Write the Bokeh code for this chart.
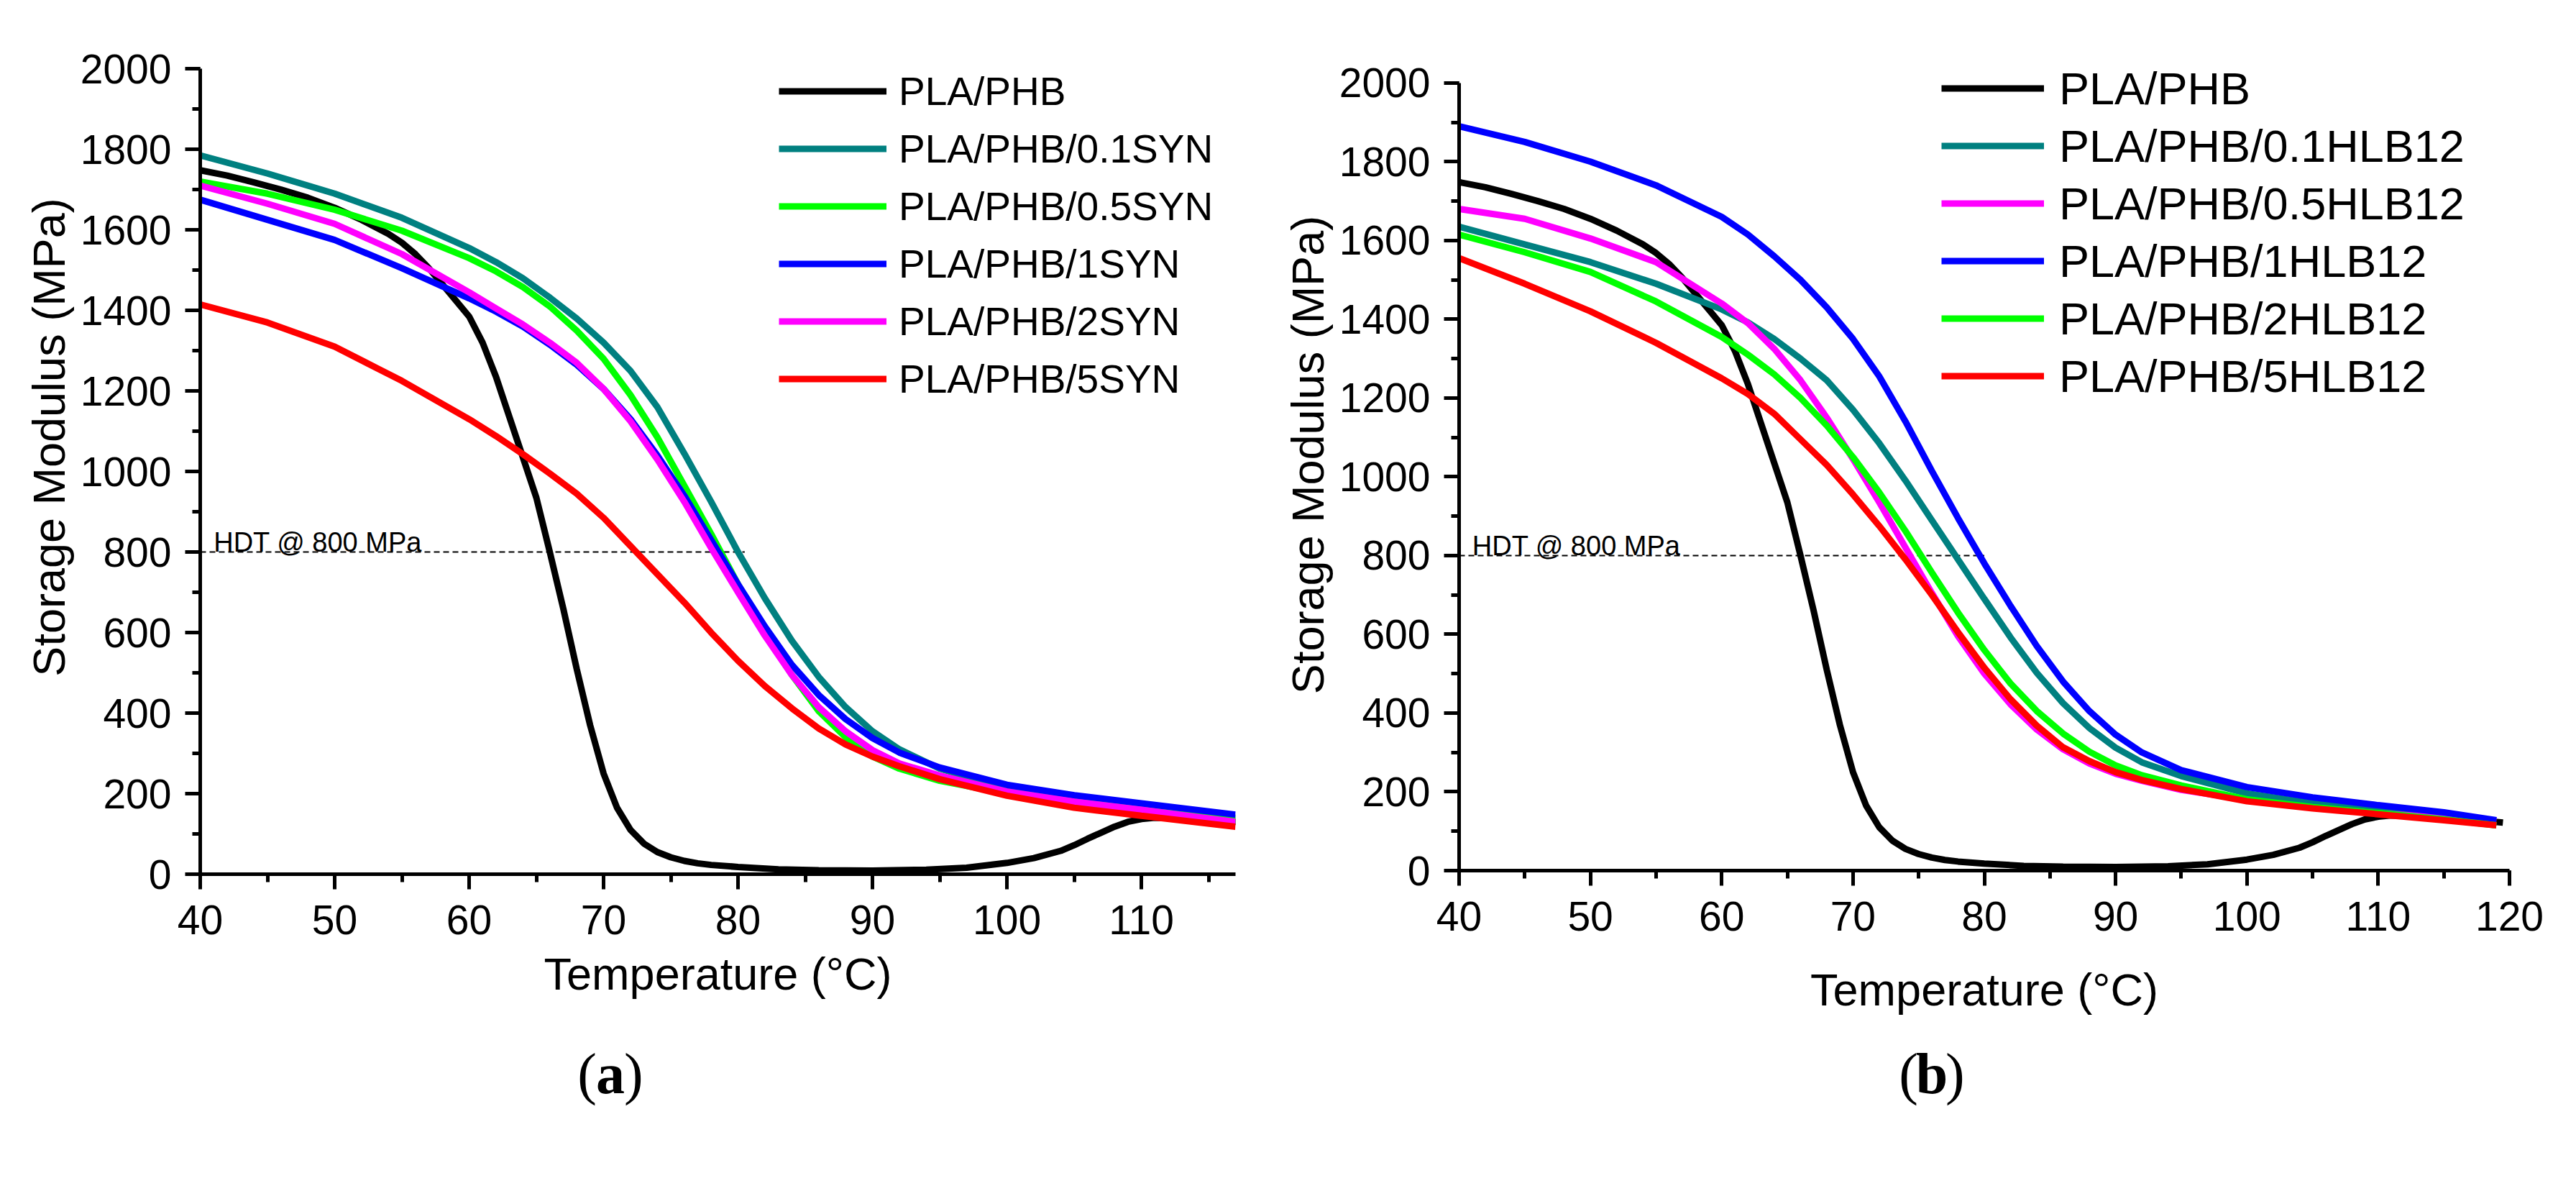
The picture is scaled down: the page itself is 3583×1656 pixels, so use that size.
from bokeh.embed import file_html
from bokeh.resources import INLINE
from bokeh.layouts import row, column
from bokeh.models import Range1d, SingleIntervalTicker, Legend, LegendItem, Label
from bokeh.plotting import figure

# ---- data ----
# neat blend, same curve in both panels
t_blend = [40, 42, 44, 46, 48, 50, 52, 54, 55, 56, 57, 58, 59, 60, 61, 62, 63, 64, 65,
           66, 67, 68, 69, 70, 71, 72, 73, 74, 75, 76, 77, 78, 80, 83, 86, 90, 94, 97,
           100, 102, 104, 105, 106, 107, 108, 109, 110, 111, 113, 116, 119.5]
e_blend = [1748, 1735, 1718, 1700, 1680, 1655, 1625, 1590, 1568, 1540, 1505, 1465, 1425,
           1385, 1320, 1235, 1135, 1035, 935, 800, 660, 510, 370, 250, 165, 110, 76, 55,
           42, 33, 27, 23, 18, 12, 10, 9, 11, 16, 28, 40, 58, 72, 88, 103, 118, 130, 137,
           140, 139, 133, 122]

# (a) SYN series
t_a = [40, 45, 50, 55, 60, 62, 64, 66, 68, 70, 72, 74, 76, 78, 80, 82, 84, 86, 88, 90,
       92, 95, 100, 105, 110, 117]
e_01syn = [1785, 1740, 1690, 1630, 1555, 1520, 1480, 1432, 1380, 1320, 1250, 1160, 1045,
           925, 800, 685, 580, 490, 415, 355, 310, 262, 213, 186, 166, 140]
e_05syn = [1720, 1690, 1650, 1598, 1530, 1497, 1458, 1410, 1350, 1280, 1190, 1085, 965,
           845, 720, 600, 495, 405, 340, 292, 262, 232, 200, 180, 160, 135]
e_1syn = [1675, 1625, 1575, 1505, 1430, 1397, 1360, 1315, 1265, 1205, 1130, 1040, 940,
          830, 720, 615, 520, 445, 385, 338, 302, 265, 222, 196, 176, 148]
e_2syn = [1710, 1665, 1615, 1540, 1445, 1405, 1365, 1320, 1270, 1205, 1125, 1030, 925,
          810, 700, 592, 495, 415, 355, 308, 275, 245, 205, 180, 160, 130]
e_5syn = [1415, 1370, 1310, 1225, 1130, 1088, 1043, 995, 945, 885, 815, 745, 675, 600,
          530, 467, 412, 362, 322, 292, 268, 236, 195, 165, 145, 118]

# (b) HLB12 series
t_b = [40, 45, 50, 55, 60, 62, 64, 66, 68, 70, 72, 74, 76, 78, 80, 82, 84, 86, 88, 90,
       92, 95, 100, 105, 110, 115, 119]
e_01hlb = [1635, 1590, 1545, 1490, 1425, 1392, 1350, 1300, 1245, 1170, 1085, 990, 890,
           790, 690, 592, 502, 425, 362, 312, 275, 240, 196, 171, 151, 135, 115]
e_05hlb = [1680, 1655, 1605, 1545, 1440, 1390, 1325, 1245, 1150, 1045, 935, 820, 705,
           595, 500, 422, 358, 308, 272, 246, 228, 205, 180, 160, 145, 135, 125]
e_1hlb = [1890, 1850, 1800, 1740, 1660, 1615, 1560, 1500, 1430, 1350, 1255, 1140, 1015,
          895, 780, 672, 570, 480, 405, 345, 300, 255, 212, 186, 166, 148, 128]
e_2hlb = [1615, 1570, 1520, 1445, 1355, 1310, 1260, 1200, 1130, 1050, 960, 862, 757, 655,
          560, 475, 405, 348, 302, 267, 242, 216, 181, 161, 146, 130, 115]
e_5hlb = [1555, 1490, 1420, 1340, 1250, 1210, 1160, 1095, 1030, 955, 875, 790, 700, 605,
          515, 435, 368, 313, 278, 250, 230, 207, 176, 158, 143, 128, 115]

labels_a = ["PLA/PHB", "PLA/PHB/0.1SYN", "PLA/PHB/0.5SYN", "PLA/PHB/1SYN",
            "PLA/PHB/2SYN", "PLA/PHB/5SYN"]
labels_b = ["PLA/PHB", "PLA/PHB/0.1HLB12", "PLA/PHB/0.5HLB12", "PLA/PHB/1HLB12",
            "PLA/PHB/2HLB12", "PLA/PHB/5HLB12"]
colors_a = ["#000000", "#008080", "#00ff00", "#0000ff", "#ff00ff", "#ff0000"]
colors_b = ["#000000", "#008080", "#ff00ff", "#0000ff", "#00ff00", "#ff0000"]

hdt_a_x = [40, 80.5]
hdt_b_x = [40, 80]
hdt_y = [800, 800]

FONT = "Liberation Sans"
W = 1780
H_MAIN = 1440
H_TAG = 200


def make_panel(x_end, y_top, series, labels, colors, hdt_x, border_left, border_top,
               border_right, border_bottom, leg_font, leg_glyph_w, leg_standoff,
               leg_row_h, leg_spacing, leg_loc, x_title_standoff):
    p = figure(width=W, height=H_MAIN, output_backend="svg", toolbar_location=None,
               x_range=Range1d(40, x_end), y_range=Range1d(0, y_top),
               x_axis_label="Temperature (°C)", y_axis_label="Storage Modulus (MPa)")
    p.min_border_left = border_left
    p.min_border_top = border_top
    p.min_border_right = border_right
    p.min_border_bottom = border_bottom
    p.outline_line_color = None
    p.grid.visible = False

    p.xaxis.ticker = SingleIntervalTicker(interval=10, num_minor_ticks=2)
    p.yaxis.ticker = SingleIntervalTicker(interval=200, num_minor_ticks=2)
    p.yaxis.bounds = (0, 2000)
    for ax in (p.xaxis, p.yaxis):
        ax.axis_line_width = 5
        ax.major_tick_line_width = 5
        ax.minor_tick_line_width = 5
        ax.major_tick_in = 0
        ax.major_tick_out = 21
        ax.minor_tick_in = 0
        ax.minor_tick_out = 11
        ax.major_label_text_font = FONT
        ax.major_label_text_font_size = "57px"
        ax.major_label_text_color = "black"
        ax.axis_label_text_font = FONT
        ax.axis_label_text_font_size = "63px"
        ax.axis_label_text_font_style = "normal"
        ax.axis_label_text_color = "black"
    p.xaxis.major_label_standoff = 22
    p.xaxis.axis_label_standoff = x_title_standoff
    p.yaxis.major_label_standoff = 19
    p.yaxis.axis_label_standoff = 6

    # HDT reference line
    p.line(hdt_x, hdt_y, line_color="black", line_width=2, line_dash="8 5")
    p.add_layout(Label(x=41.0, y=824, text="HDT @ 800 MPa", text_font=FONT,
                       text_font_size="38px", text_color="black",
                       text_baseline="alphabetic"))

    items = []
    for (tx, ey), lab, col in zip(series, labels, colors):
        r = p.line(tx, ey, line_color=col, line_width=9)
        items.append(LegendItem(label=lab, renderers=[r]))

    leg = Legend(items=items, location=leg_loc, label_text_font=FONT,
                 label_text_font_size=leg_font, label_text_color="black",
                 glyph_width=leg_glyph_w, glyph_height=leg_row_h,
                 label_height=leg_row_h, label_standoff=leg_standoff,
                 spacing=leg_spacing, padding=0, margin=0,
                 border_line_color=None, background_fill_alpha=0)
    p.add_layout(leg)
    return p


def make_tag(tag, x_end, tx):
    # panel tag "(a)" / "(b)": bold letter in plain serif parentheses;
    # the frame lines up with the panel above, so x is in temperature units
    t = figure(width=W, height=H_TAG, output_backend="svg", toolbar_location=None,
               x_range=Range1d(40, x_end), y_range=Range1d(0, H_TAG),
               x_axis_type=None, y_axis_type=None, min_border=0)
    t.outline_line_color = None
    t.grid.visible = False
    for txt, style, off, align in (("(", "normal", -19, "right"),
                                   (tag, "bold", 0, "center"),
                                   (")", "normal", 19, "left")):
        t.add_layout(Label(x=tx, y=148, x_offset=off, text=txt,
                           text_font="Liberation Serif", text_font_size="80px",
                           text_font_style=style, text_color="black",
                           text_align=align, text_baseline="middle"))
    return t


series_a = [(t_blend, e_blend), (t_a, e_01syn), (t_a, e_05syn), (t_a, e_1syn),
            (t_a, e_2syn), (t_a, e_5syn)]
series_b = [(t_blend, e_blend), (t_b, e_01hlb), (t_b, e_05hlb), (t_b, e_1hlb),
            (t_b, e_2hlb), (t_b, e_5hlb)]

# left: frame x 286..1726, y 8..1223 (page px); 2000 MPa at y=103
pa = make_panel(117, 2170, series_a, labels_a, colors_a, hdt_a_x,
                border_left=278, border_top=0, border_right=W - 278 - 1440,
                border_bottom=H_MAIN - 1215,
                leg_font="55px", leg_glyph_w=150, leg_standoff=17, leg_row_h=65,
                leg_spacing=15, leg_loc=(805, 656), x_title_standoff=17)
# right: frame x 2036..3498, y 62..1218 (page px); 2000 MPa at y=123
pb = make_panel(120, 2111, series_b, labels_b, colors_b, hdt_b_x,
                border_left=248, border_top=54, border_right=W - 248 - 1462,
                border_bottom=H_MAIN - 1210,
                leg_font="63px", leg_glyph_w=143, leg_standoff=21, leg_row_h=75,
                leg_spacing=5, leg_loc=(671, 650), x_title_standoff=44)

tag_a = make_tag("a", 117, 70.5)
tag_b = make_tag("b", 120, 76.0)

layout = row(column(pa, tag_a), column(pb, tag_b))
open("out.html", "w").write(file_html(layout, INLINE))
